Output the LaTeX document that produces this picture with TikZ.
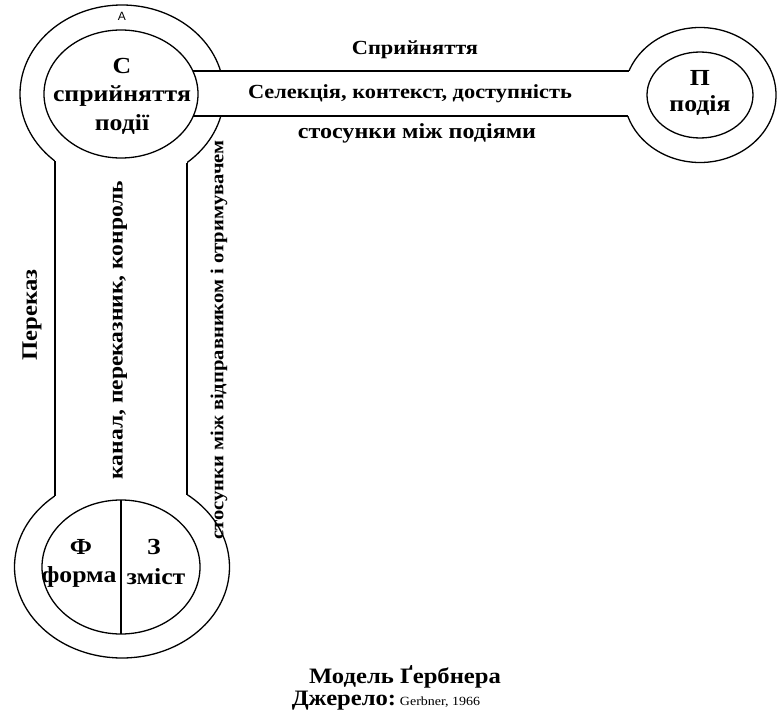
\documentclass[tikz,border=0pt]{standalone}
\usepackage{graphicx}
\usepackage{fontspec}
\setmainfont{Liberation Serif}
\newfontfamily\sansfam{Liberation Sans}
\usetikzlibrary{shapes.geometric}
\newcommand{\wtxt}[1]{\scalebox{1.12}[1]{#1}}
\begin{document}
\begin{tikzpicture}[x=1pt,y=-1pt,
  ring/.style={draw, ellipse, inner sep=0pt, outer sep=0pt, line width=1.3pt},
  edge/.style={line width=1.3pt},
  gapfill/.style={fill=white, draw=none},
  lbl/.style={font=\bfseries\fontsize{23}{25}\selectfont, inner sep=0pt},
  bandlbl/.style={font=\bfseries\fontsize{20}{22}\selectfont, inner sep=0pt},
  vlbl/.style={font=\bfseries\fontsize{21}{23}\selectfont, inner sep=0pt, rotate=90}]
\useasboundingbox (0,0) rectangle (780,717);
% outer rings
\node[ring, minimum width=204pt, minimum height=178pt] (Lout) at (122,94) {};
\node[ring, minimum width=215pt, minimum height=182pt] (Bout) at (122,567) {};
\node[ring, minimum width=152pt, minimum height=135pt] (Rout) at (700,95) {};
% openings of the bands
\fill[gapfill] (190,71) rectangle (636,116);
\fill[gapfill] (55,150) rectangle (187,505);
% inner rings
\node[ring, minimum width=154pt, minimum height=128pt] (Lin) at (121,94) {};
\node[ring, minimum width=158pt, minimum height=134pt] (Bin) at (121,567) {};
\node[ring, minimum width=106pt, minimum height=86pt] (Rin) at (700,95) {};
% band end points
\coordinate (h1a) at (192.9,71);
\coordinate (h1b) at (629,71);
\coordinate (h2a) at (193.3,116);
\coordinate (h2b) at (627.8,116);
\coordinate (v1a) at (55,161.1);
\coordinate (v1b) at (55,495.8);
\coordinate (v2a) at (187,162.6);
\coordinate (v2b) at (187,494.5);
\draw[edge] (h1a) -- (h1b);
\draw[edge] (h2a) -- (h2b);
\draw[edge] (v1a) -- (v1b);
\draw[edge] (v2a) -- (v2b);
\draw[edge] (Bin.north) -- (Bin.south);
% labels
\node[font=\sansfam\fontsize{12}{12}\selectfont, inner sep=0pt] (tA) at (122,16) {A};
\node[lbl] (tC) at (122,66) {\wtxt{С}};
\node[lbl] (tC2) at (122,96) {\wtxt{сприйняття}};
\node[lbl] (tC3) at (122,125) {\wtxt{події}};
\node[lbl] (tP) at (700,78) {\wtxt{П}};
\node[lbl] (tP2) at (700,106) {\wtxt{подія}};
\node[lbl] (tF) at (81,547) {\wtxt{Ф}};
\node[lbl] (tF2) at (79,577) {\wtxt{форма}};
\node[lbl] (tZ) at (154,547) {\wtxt{З}};
\node[lbl] (tZ2) at (156,577) {\wtxt{зміст}};
\node[bandlbl] (s1) at (415,50) {\wtxt{Сприйняття}};
\node[bandlbl] (s2) at (410,94) {\wtxt{Селекція, контекст, доступність}};
\node[bandlbl, font=\bfseries\fontsize{21.5}{23}\selectfont] (s3) at (417,133) {\wtxt{стосунки між подіями}};
\node[vlbl, font=\bfseries\fontsize{22}{24}\selectfont] (v1) at (32,315) {\wtxt{Переказ}};
\node[vlbl] (v2) at (120,330) {\wtxt{канал, переказник, конроль}};
\node[vlbl, font=\bfseries\fontsize{18.4}{21}\selectfont] (v3) at (219,340) {\wtxt{стосунки між відправником і отримувачем}};
\node[font=\bfseries\fontsize{22}{24}\selectfont, inner sep=0pt] (t1) at (405,677) {\wtxt{Модель Ґербнера}};
\node[inner sep=0pt] (t2) at (386,701) {\wtxt{{\bfseries\fontsize{22}{24}\selectfont Джерело:} {\fontsize{12.5}{14}\selectfont Gerbner, 1966}}};
\end{tikzpicture}
\end{document}
